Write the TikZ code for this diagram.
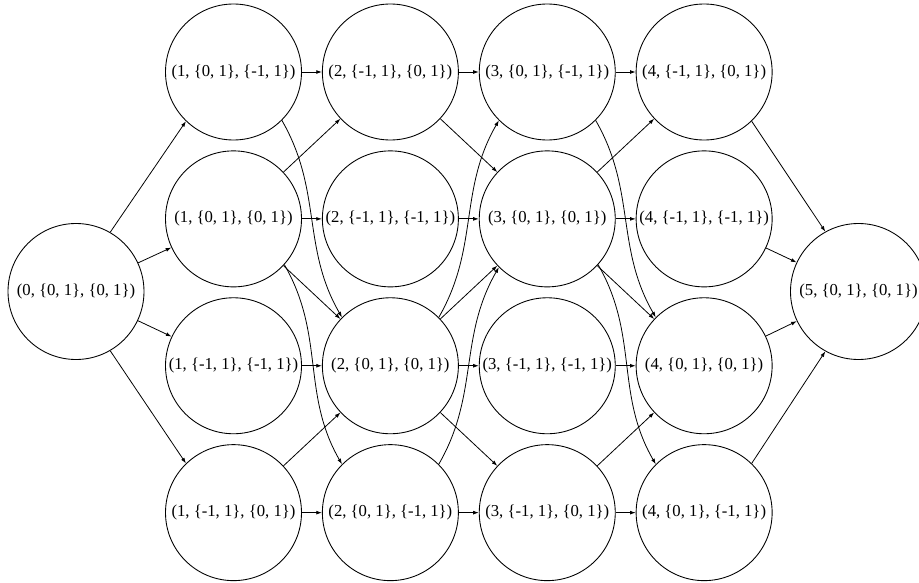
\documentclass[tikz,border=0pt]{standalone}
\usepackage{fontspec}
\setmainfont{Liberation Serif}
\usetikzlibrary{arrows.meta, positioning}

\begin{document}
\begin{tikzpicture}[
    node distance=0.2cm and 0.4cm,
    st/.style={draw, circle, minimum size=2.72cm, inner sep=0pt, line width=0.5pt, font=\fontsize{9.5}{11}\selectfont},
    edge/.style={-{Latex[length=3.2pt,width=2.2pt]}, line width=0.45pt},
    >=Stealth
]
\useasboundingbox (0,0) rectangle (18.38,-11.66);

% start and end
\node[st] (s0) at (1.52,-5.83) {(0, \{0, 1\}, \{0, 1\})};
\node[st] (s5) at (17.17,-5.83) {(5, \{0, 1\}, \{0, 1\})};

% column 1
\node[st] (a1) at (4.67,-1.44) {(1, \{0, 1\}, \{-1, 1\})};
\node[st, below=of a1] (b1) {(1, \{0, 1\}, \{0, 1\})};
\node[st, below=of b1] (c1) {(1, \{-1, 1\}, \{-1, 1\})};
\node[st, below=of c1] (d1) {(1, \{-1, 1\}, \{0, 1\})};

% column 2
\node[st, right=of a1] (a2) {(2, \{-1, 1\}, \{0, 1\})};
\node[st, right=of b1] (b2) {(2, \{-1, 1\}, \{-1, 1\})};
\node[st, right=of c1] (c2) {(2, \{0, 1\}, \{0, 1\})};
\node[st, right=of d1] (d2) {(2, \{0, 1\}, \{-1, 1\})};

% column 3
\node[st, right=of a2] (a3) {(3, \{0, 1\}, \{-1, 1\})};
\node[st, right=of b2] (b3) {(3, \{0, 1\}, \{0, 1\})};
\node[st, right=of c2] (c3) {(3, \{-1, 1\}, \{-1, 1\})};
\node[st, right=of d2] (d3) {(3, \{-1, 1\}, \{0, 1\})};

% column 4
\node[st, right=of a3] (a4) {(4, \{-1, 1\}, \{0, 1\})};
\node[st, right=of b3] (b4) {(4, \{-1, 1\}, \{-1, 1\})};
\node[st, right=of c3] (c4) {(4, \{0, 1\}, \{0, 1\})};
\node[st, right=of d3] (d4) {(4, \{0, 1\}, \{-1, 1\})};

% 0 -> 1
\draw[edge] (s0.60) -- (a1.-134);
\draw[edge] (s0) -- (b1);
\draw[edge] (s0) -- (c1);
\draw[edge] (s0.-60) -- (d1.134);

% 1 -> 2
\draw[edge] (a1) -- (a2);
\draw[edge] (a1.-45) to[out=-60, in=120] (c2.135);
\draw[edge] (b1) -- (a2);
\draw[edge] (b1) -- (b2);
\draw[edge] (b1) -- (c2);
\draw[edge] (b1.-42) to[out=-60, in=120] (d2.135);
\draw[edge] (c1) -- (c2);
\draw[edge] (d1) -- (c2);
\draw[edge] (d1) -- (d2);

% 2 -> 3
\draw[edge] (a2) -- (a3);
\draw[edge] (a2) -- (b3);
\draw[edge] (b2) -- (b3);
\draw[edge] (c2.45) to[out=60, in=-120] (a3.-135);
\draw[edge] (c2) -- (b3);
\draw[edge] (c2) -- (c3);
\draw[edge] (c2) -- (d3);
\draw[edge] (d2.45) to[out=60, in=-120] (b3.-135);
\draw[edge] (d2) -- (d3);

% 3 -> 4
\draw[edge] (a3) -- (a4);
\draw[edge] (a3.-45) to[out=-60, in=120] (c4.135);
\draw[edge] (b3) -- (a4);
\draw[edge] (b3) -- (b4);
\draw[edge] (b3) -- (c4);
\draw[edge] (b3.-42) to[out=-60, in=120] (d4.135);
\draw[edge] (c3) -- (c4);
\draw[edge] (d3) -- (c4);
\draw[edge] (d3) -- (d4);

% 4 -> 5
\draw[edge] (a4.-46) -- (s5.119);
\draw[edge] (b4) -- (s5);
\draw[edge] (c4) -- (s5);
\draw[edge] (d4.46) -- (s5.-119);
\end{tikzpicture}
\end{document}
